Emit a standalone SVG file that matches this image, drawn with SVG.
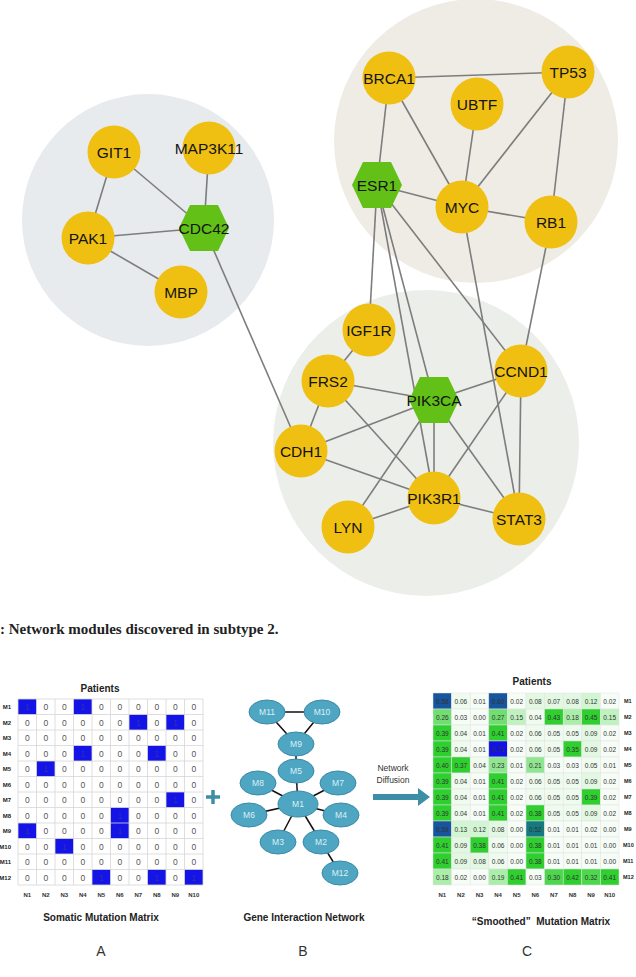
<svg xmlns="http://www.w3.org/2000/svg" width="636" height="977" viewBox="0 0 636 977">
<style>
.bgc{stroke:none}
.edge{stroke:#7d7d7d;stroke-width:1.6;fill:none}
.gene{fill:#efbf12}
.hub{fill:#62c016}
.gl{font-family:"Liberation Sans",Arial,sans-serif;font-size:15.5px;fill:#141414;text-anchor:middle}
.cap{font-family:"Liberation Serif","Times New Roman",serif;font-size:15px;font-weight:bold;fill:#222}
.ttl{font-family:"Liberation Sans",Arial,sans-serif;font-size:10px;font-weight:bold;fill:#222;text-anchor:middle}
.abc{font-family:"Liberation Sans",Arial,sans-serif;font-size:14px;fill:#333;text-anchor:middle}
.z{font-family:"Liberation Sans",Arial,sans-serif;font-size:8.5px;fill:#555;text-anchor:middle}
.one{fill:#3030b0}
.rl{font-family:"Liberation Sans",Arial,sans-serif;font-size:6px;font-weight:bold;fill:#222}
.rr{font-family:"Liberation Sans",Arial,sans-serif;font-size:5.5px;font-weight:bold;fill:#222}
.cl{font-family:"Liberation Sans",Arial,sans-serif;font-size:6px;font-weight:bold;fill:#333;text-anchor:middle}
.grid{stroke:#d6d6d6;stroke-width:0.8;fill:none}
.blue{fill:#1414e6}
.bn{fill:#4ea6c2;stroke:#3b8aa5;stroke-width:1}
.bl{font-family:"Liberation Sans",Arial,sans-serif;font-size:8.5px;fill:#dcf0f6;text-anchor:middle}
.be{stroke:#111;stroke-width:1.5}
.teal{fill:#3d8fa6}
.nd{font-family:"Liberation Sans",Arial,sans-serif;font-size:8.5px;fill:#333;text-anchor:middle}
.v{font-family:"Liberation Sans",Arial,sans-serif;font-size:6.5px;fill:#333;text-anchor:middle}
.mc rect{stroke:#e2e2e2;stroke-width:0.5;width:18.6px;height:16px}
.a{fill:#f6fdf6}.b{fill:#eefbee}.c{fill:#e2f8e2}.d{fill:#d2f5d2}.e{fill:#c0f2c0}.f{fill:#aaeeaa}.g{fill:#90e690}.h{fill:#70de70}.i{fill:#4cd74c}.j{fill:#2ecf2e}.k{fill:#157a80}.l{fill:#17559e}.m{fill:#1212e6}
</style>
<defs>
<polygon id="hex" points="-25,0 -14,-23 14,-23 25,0 14,23 -14,23"/>
</defs>

<!-- module backgrounds -->
<g id="modules">
<circle cx="148" cy="220" r="126" fill="#e7ebee"/>
<circle cx="476" cy="141" r="142" fill="#eeece5"/>
<circle cx="426" cy="443" r="153" fill="#eceee9"/>
</g>

<!-- connectors of the network -->
<g id="connectors">
<line class="edge" x1="114" y1="152" x2="88" y2="238"/>
<line class="edge" x1="114" y1="152" x2="204" y2="228"/>
<line class="edge" x1="209" y1="148" x2="204" y2="228"/>
<line class="edge" x1="88" y1="238" x2="204" y2="228"/>
<line class="edge" x1="88" y1="238" x2="181" y2="292"/>
<line class="edge" x1="204" y1="228" x2="301" y2="451"/>
<line class="edge" x1="389" y1="78" x2="568" y2="72"/>
<line class="edge" x1="389" y1="78" x2="377" y2="185"/>
<line class="edge" x1="389" y1="78" x2="462" y2="207"/>
<line class="edge" x1="477" y1="104" x2="462" y2="207"/>
<line class="edge" x1="568" y1="72" x2="462" y2="207"/>
<line class="edge" x1="568" y1="72" x2="551" y2="222"/>
<line class="edge" x1="377" y1="185" x2="462" y2="207"/>
<line class="edge" x1="462" y1="207" x2="551" y2="222"/>
<line class="edge" x1="377" y1="185" x2="369" y2="330"/>
<line class="edge" x1="377" y1="185" x2="434" y2="400"/>
<line class="edge" x1="377" y1="185" x2="434" y2="498"/>
<line class="edge" x1="377" y1="185" x2="521" y2="371"/>
<line class="edge" x1="462" y1="207" x2="519" y2="519"/>
<line class="edge" x1="551" y1="222" x2="521" y2="371"/>
<line class="edge" x1="369" y1="330" x2="328" y2="381"/>
<line class="edge" x1="328" y1="381" x2="434" y2="400"/>
<line class="edge" x1="328" y1="381" x2="301" y2="451"/>
<line class="edge" x1="328" y1="381" x2="434" y2="498"/>
<line class="edge" x1="301" y1="451" x2="434" y2="400"/>
<line class="edge" x1="301" y1="451" x2="434" y2="498"/>
<line class="edge" x1="434" y1="400" x2="521" y2="371"/>
<line class="edge" x1="434" y1="400" x2="434" y2="498"/>
<line class="edge" x1="434" y1="400" x2="348" y2="527"/>
<line class="edge" x1="434" y1="400" x2="519" y2="519"/>
<line class="edge" x1="521" y1="371" x2="434" y2="498"/>
<line class="edge" x1="521" y1="371" x2="519" y2="519"/>
<line class="edge" x1="434" y1="498" x2="348" y2="527"/>
<line class="edge" x1="434" y1="498" x2="519" y2="519"/>
</g>

<g id="node-GIT1"><circle class="gene" cx="114" cy="152" r="26.5"/><text class="gl" x="114" y="157.5">GIT1</text></g>
<g id="node-MAP3K11"><circle class="gene" cx="209" cy="148" r="26.5"/><text class="gl" x="209" y="153.5">MAP3K11</text></g>
<g id="node-PAK1"><circle class="gene" cx="88" cy="238" r="26.5"/><text class="gl" x="88" y="243.5">PAK1</text></g>
<g id="node-CDC42"><use href="#hex" class="hub" transform="translate(204,228)"/><text class="gl" x="204" y="233.5">CDC42</text></g>
<g id="node-MBP"><circle class="gene" cx="181" cy="292" r="26.5"/><text class="gl" x="181" y="297.5">MBP</text></g>
<g id="node-BRCA1"><circle class="gene" cx="389" cy="78" r="26.5"/><text class="gl" x="389" y="83.5">BRCA1</text></g>
<g id="node-TP53"><circle class="gene" cx="568" cy="72" r="26.5"/><text class="gl" x="568" y="77.5">TP53</text></g>
<g id="node-UBTF"><circle class="gene" cx="477" cy="104" r="26.5"/><text class="gl" x="477" y="109.5">UBTF</text></g>
<g id="node-ESR1"><use href="#hex" class="hub" transform="translate(377,185)"/><text class="gl" x="377" y="190.5">ESR1</text></g>
<g id="node-MYC"><circle class="gene" cx="462" cy="207" r="26.5"/><text class="gl" x="462" y="212.5">MYC</text></g>
<g id="node-RB1"><circle class="gene" cx="551" cy="222" r="26.5"/><text class="gl" x="551" y="227.5">RB1</text></g>
<g id="node-IGF1R"><circle class="gene" cx="369" cy="330" r="26.5"/><text class="gl" x="369" y="335.5">IGF1R</text></g>
<g id="node-FRS2"><circle class="gene" cx="328" cy="381" r="26.5"/><text class="gl" x="328" y="386.5">FRS2</text></g>
<g id="node-PIK3CA"><use href="#hex" class="hub" transform="translate(434,400)"/><text class="gl" x="434" y="405.5">PIK3CA</text></g>
<g id="node-CCND1"><circle class="gene" cx="521" cy="371" r="26.5"/><text class="gl" x="521" y="376.5">CCND1</text></g>
<g id="node-CDH1"><circle class="gene" cx="301" cy="451" r="26.5"/><text class="gl" x="301" y="456.5">CDH1</text></g>
<g id="node-PIK3R1"><circle class="gene" cx="434" cy="498" r="26.5"/><text class="gl" x="434" y="503.5">PIK3R1</text></g>
<g id="node-LYN"><circle class="gene" cx="348" cy="527" r="26.5"/><text class="gl" x="348" y="532.5">LYN</text></g>
<g id="node-STAT3"><circle class="gene" cx="519" cy="519" r="26.5"/><text class="gl" x="519" y="524.5">STAT3</text></g>

<text class="cap" x="0" y="634">: Network modules discovered in subtype 2.</text>

<!-- Panel A -->
<g id="panel-A">
<text class="ttl" x="100" y="692">Patients</text>
<rect x="18" y="699" width="185" height="186" fill="#fff"/>
<g class="blue">
<rect x="18" y="699" width="18.5" height="15.5"/>
<rect x="73.5" y="699" width="18.5" height="15.5"/>
<rect x="129" y="714.5" width="18.5" height="15.5"/>
<rect x="166" y="714.5" width="18.5" height="15.5"/>
<rect x="73.5" y="745.5" width="18.5" height="15.5"/>
<rect x="147.5" y="745.5" width="18.5" height="15.5"/>
<rect x="36.5" y="761" width="18.5" height="15.5"/>
<rect x="166" y="792" width="18.5" height="15.5"/>
<rect x="110.5" y="807.5" width="18.5" height="15.5"/>
<rect x="18" y="823" width="18.5" height="15.5"/>
<rect x="110.5" y="823" width="18.5" height="15.5"/>
<rect x="55" y="838.5" width="18.5" height="15.5"/>
<rect x="92" y="869.5" width="18.5" height="15.5"/>
<rect x="147.5" y="869.5" width="18.5" height="15.5"/>
<rect x="184.5" y="869.5" width="18.5" height="15.5"/>
</g>
<path class="grid" d="M18 699V885M36.5 699V885M55 699V885M73.5 699V885M92 699V885M110.5 699V885M129 699V885M147.5 699V885M166 699V885M184.5 699V885M203 699V885M18 699H203M18 714.5H203M18 730H203M18 745.5H203M18 761H203M18 776.5H203M18 792H203M18 807.5H203M18 823H203M18 838.5H203M18 854H203M18 869.5H203M18 885H203"/>
<g class="z">
<text y="710"><tspan x="27.25" class="one">1</tspan><tspan x="45.75">0</tspan><tspan x="64.25">0</tspan><tspan x="82.75" class="one">1</tspan><tspan x="101.25">0</tspan><tspan x="119.75">0</tspan><tspan x="138.25">0</tspan><tspan x="156.75">0</tspan><tspan x="175.25">0</tspan><tspan x="193.75">0</tspan></text>
<text y="725.5"><tspan x="27.25">0</tspan><tspan x="45.75">0</tspan><tspan x="64.25">0</tspan><tspan x="82.75">0</tspan><tspan x="101.25">0</tspan><tspan x="119.75">0</tspan><tspan x="138.25" class="one">1</tspan><tspan x="156.75">0</tspan><tspan x="175.25" class="one">1</tspan><tspan x="193.75">0</tspan></text>
<text y="741"><tspan x="27.25">0</tspan><tspan x="45.75">0</tspan><tspan x="64.25">0</tspan><tspan x="82.75">0</tspan><tspan x="101.25">0</tspan><tspan x="119.75">0</tspan><tspan x="138.25">0</tspan><tspan x="156.75">0</tspan><tspan x="175.25">0</tspan><tspan x="193.75">0</tspan></text>
<text y="756.5"><tspan x="27.25">0</tspan><tspan x="45.75">0</tspan><tspan x="64.25">0</tspan><tspan x="82.75" class="one">1</tspan><tspan x="101.25">0</tspan><tspan x="119.75">0</tspan><tspan x="138.25">0</tspan><tspan x="156.75" class="one">1</tspan><tspan x="175.25">0</tspan><tspan x="193.75">0</tspan></text>
<text y="772"><tspan x="27.25">0</tspan><tspan x="45.75" class="one">1</tspan><tspan x="64.25">0</tspan><tspan x="82.75">0</tspan><tspan x="101.25">0</tspan><tspan x="119.75">0</tspan><tspan x="138.25">0</tspan><tspan x="156.75">0</tspan><tspan x="175.25">0</tspan><tspan x="193.75">0</tspan></text>
<text y="787.5"><tspan x="27.25">0</tspan><tspan x="45.75">0</tspan><tspan x="64.25">0</tspan><tspan x="82.75">0</tspan><tspan x="101.25">0</tspan><tspan x="119.75">0</tspan><tspan x="138.25">0</tspan><tspan x="156.75">0</tspan><tspan x="175.25">0</tspan><tspan x="193.75">0</tspan></text>
<text y="803"><tspan x="27.25">0</tspan><tspan x="45.75">0</tspan><tspan x="64.25">0</tspan><tspan x="82.75">0</tspan><tspan x="101.25">0</tspan><tspan x="119.75">0</tspan><tspan x="138.25">0</tspan><tspan x="156.75">0</tspan><tspan x="175.25" class="one">1</tspan><tspan x="193.75">0</tspan></text>
<text y="818.5"><tspan x="27.25">0</tspan><tspan x="45.75">0</tspan><tspan x="64.25">0</tspan><tspan x="82.75">0</tspan><tspan x="101.25">0</tspan><tspan x="119.75" class="one">1</tspan><tspan x="138.25">0</tspan><tspan x="156.75">0</tspan><tspan x="175.25">0</tspan><tspan x="193.75">0</tspan></text>
<text y="834"><tspan x="27.25" class="one">1</tspan><tspan x="45.75">0</tspan><tspan x="64.25">0</tspan><tspan x="82.75">0</tspan><tspan x="101.25">0</tspan><tspan x="119.75" class="one">1</tspan><tspan x="138.25">0</tspan><tspan x="156.75">0</tspan><tspan x="175.25">0</tspan><tspan x="193.75">0</tspan></text>
<text y="849.5"><tspan x="27.25">0</tspan><tspan x="45.75">0</tspan><tspan x="64.25" class="one">1</tspan><tspan x="82.75">0</tspan><tspan x="101.25">0</tspan><tspan x="119.75">0</tspan><tspan x="138.25">0</tspan><tspan x="156.75">0</tspan><tspan x="175.25">0</tspan><tspan x="193.75">0</tspan></text>
<text y="865"><tspan x="27.25">0</tspan><tspan x="45.75">0</tspan><tspan x="64.25">0</tspan><tspan x="82.75">0</tspan><tspan x="101.25">0</tspan><tspan x="119.75">0</tspan><tspan x="138.25">0</tspan><tspan x="156.75">0</tspan><tspan x="175.25">0</tspan><tspan x="193.75">0</tspan></text>
<text y="880.5"><tspan x="27.25">0</tspan><tspan x="45.75">0</tspan><tspan x="64.25">0</tspan><tspan x="82.75">0</tspan><tspan x="101.25" class="one">1</tspan><tspan x="119.75">0</tspan><tspan x="138.25">0</tspan><tspan x="156.75" class="one">1</tspan><tspan x="175.25">0</tspan><tspan x="193.75" class="one">1</tspan></text>
</g>
<g class="rl" text-anchor="end">
<text x="11" y="709">M1</text><text x="11" y="724.5">M2</text><text x="11" y="740">M3</text><text x="11" y="755.5">M4</text><text x="11" y="771">M5</text><text x="11" y="786.5">M6</text><text x="11" y="802">M7</text><text x="11" y="817.5">M8</text><text x="11" y="833">M9</text><text x="11" y="848.5">M10</text><text x="11" y="864">M11</text><text x="11" y="879.5">M12</text>
</g>
<text class="cl" y="897"><tspan x="27.25">N1</tspan><tspan x="45.75">N2</tspan><tspan x="64.25">N3</tspan><tspan x="82.75">N4</tspan><tspan x="101.25">N5</tspan><tspan x="119.75">N6</tspan><tspan x="138.25">N7</tspan><tspan x="156.75">N8</tspan><tspan x="175.25">N9</tspan><tspan x="193.75">N10</tspan></text>
<text class="ttl" x="101" y="921">Somatic Mutation Matrix</text>
<text class="abc" x="101" y="956">A</text>
</g>

<!-- plus -->
<path d="M206 797H220M213 790V804" stroke="#3d8fa6" stroke-width="3.5"/>

<!-- Panel B -->
<g id="panel-B">
<g id="b-edges" class="be">
<line x1="267" y1="712" x2="322" y2="712"/>
<line x1="267" y1="712" x2="296" y2="744"/>
<line x1="322" y1="712" x2="296" y2="744"/>
<line x1="296" y1="744" x2="296" y2="771"/>
<line x1="296" y1="771" x2="298" y2="804"/>
<line x1="258" y1="783" x2="298" y2="804"/>
<line x1="338" y1="783" x2="298" y2="804"/>
<line x1="249" y1="815" x2="298" y2="804"/>
<line x1="341" y1="815" x2="298" y2="804"/>
<line x1="278" y1="842" x2="298" y2="804"/>
<line x1="321" y1="842" x2="298" y2="804"/>
<line x1="321" y1="842" x2="340" y2="873"/>
</g>
<g id="b-M11"><ellipse class="bn" cx="267" cy="712" rx="18" ry="12"/><text class="bl" x="267" y="715">M11</text></g>
<g id="b-M10"><ellipse class="bn" cx="322" cy="712" rx="18" ry="12"/><text class="bl" x="322" y="715">M10</text></g>
<g id="b-M9"><ellipse class="bn" cx="296" cy="744" rx="18" ry="12"/><text class="bl" x="296" y="747">M9</text></g>
<g id="b-M5"><ellipse class="bn" cx="296" cy="771" rx="18" ry="12"/><text class="bl" x="296" y="774">M5</text></g>
<g id="b-M8"><ellipse class="bn" cx="258" cy="783" rx="18" ry="12"/><text class="bl" x="258" y="786">M8</text></g>
<g id="b-M7"><ellipse class="bn" cx="338" cy="783" rx="18" ry="12"/><text class="bl" x="338" y="786">M7</text></g>
<g id="b-M1"><ellipse class="bn" cx="298" cy="804" rx="20" ry="13"/><text class="bl" x="298" y="807">M1</text></g>
<g id="b-M6"><ellipse class="bn" cx="249" cy="815" rx="18" ry="12"/><text class="bl" x="249" y="818">M6</text></g>
<g id="b-M4"><ellipse class="bn" cx="341" cy="815" rx="18" ry="12"/><text class="bl" x="341" y="818">M4</text></g>
<g id="b-M3"><ellipse class="bn" cx="278" cy="842" rx="18" ry="12"/><text class="bl" x="278" y="845">M3</text></g>
<g id="b-M2"><ellipse class="bn" cx="321" cy="842" rx="18" ry="12"/><text class="bl" x="321" y="845">M2</text></g>
<g id="b-M12"><ellipse class="bn" cx="340" cy="873" rx="18" ry="12"/><text class="bl" x="340" y="876">M12</text></g>
<text class="ttl" x="304" y="921">Gene Interaction Network</text>
<text class="abc" x="303" y="956">B</text>
</g>

<!-- diffusion arrow -->
<g id="arrow">
<text class="nd" x="393" y="771">Network</text>
<text class="nd" x="393" y="783">Diffusion</text>
<rect class="teal" x="373" y="794" width="46" height="6"/>
<polygon class="teal" points="418,788 430,797 418,806"/>
</g>

<!-- Panel C -->
<g id="panel-C">
<text class="ttl" x="532" y="685">Patients</text>
<g class="mc">
<g transform="translate(0,693)"><rect class="l" x="433"/><rect class="b" x="451.6"/><rect class="a" x="470.2"/><rect class="l" x="488.8"/><rect class="a" x="507.4"/><rect class="c" x="526"/><rect class="c" x="544.6"/><rect class="c" x="563.2"/><rect class="d" x="581.8"/><rect class="a" x="600.4"/></g>
<g transform="translate(0,709)"><rect class="h" x="433"/><rect class="a" x="451.6"/><rect class="a" x="470.2"/><rect class="h" x="488.8"/><rect class="e" x="507.4"/><rect class="b" x="526"/><rect class="j" x="544.6"/><rect class="f" x="563.2"/><rect class="j" x="581.8"/><rect class="e" x="600.4"/></g>
<g transform="translate(0,725)"><rect class="j" x="433"/><rect class="b" x="451.6"/><rect class="a" x="470.2"/><rect class="j" x="488.8"/><rect class="a" x="507.4"/><rect class="b" x="526"/><rect class="b" x="544.6"/><rect class="b" x="563.2"/><rect class="c" x="581.8"/><rect class="a" x="600.4"/></g>
<g transform="translate(0,741)"><rect class="j" x="433"/><rect class="b" x="451.6"/><rect class="a" x="470.2"/><rect class="m" x="488.8"/><rect class="a" x="507.4"/><rect class="b" x="526"/><rect class="b" x="544.6"/><rect class="j" x="563.2"/><rect class="c" x="581.8"/><rect class="a" x="600.4"/></g>
<g transform="translate(0,757)"><rect class="j" x="433"/><rect class="j" x="451.6"/><rect class="b" x="470.2"/><rect class="g" x="488.8"/><rect class="a" x="507.4"/><rect class="g" x="526"/><rect class="a" x="544.6"/><rect class="a" x="563.2"/><rect class="b" x="581.8"/><rect class="a" x="600.4"/></g>
<g transform="translate(0,773)"><rect class="j" x="433"/><rect class="b" x="451.6"/><rect class="a" x="470.2"/><rect class="j" x="488.8"/><rect class="a" x="507.4"/><rect class="b" x="526"/><rect class="b" x="544.6"/><rect class="b" x="563.2"/><rect class="c" x="581.8"/><rect class="a" x="600.4"/></g>
<g transform="translate(0,789)"><rect class="j" x="433"/><rect class="b" x="451.6"/><rect class="a" x="470.2"/><rect class="j" x="488.8"/><rect class="a" x="507.4"/><rect class="b" x="526"/><rect class="b" x="544.6"/><rect class="b" x="563.2"/><rect class="j" x="581.8"/><rect class="a" x="600.4"/></g>
<g transform="translate(0,805)"><rect class="j" x="433"/><rect class="b" x="451.6"/><rect class="a" x="470.2"/><rect class="j" x="488.8"/><rect class="a" x="507.4"/><rect class="j" x="526"/><rect class="b" x="544.6"/><rect class="b" x="563.2"/><rect class="c" x="581.8"/><rect class="a" x="600.4"/></g>
<g transform="translate(0,821)"><rect class="l" x="433"/><rect class="d" x="451.6"/><rect class="d" x="470.2"/><rect class="c" x="488.8"/><rect class="a" x="507.4"/><rect class="k" x="526"/><rect class="a" x="544.6"/><rect class="a" x="563.2"/><rect class="a" x="581.8"/><rect class="a" x="600.4"/></g>
<g transform="translate(0,837)"><rect class="j" x="433"/><rect class="c" x="451.6"/><rect class="j" x="470.2"/><rect class="b" x="488.8"/><rect class="a" x="507.4"/><rect class="j" x="526"/><rect class="a" x="544.6"/><rect class="a" x="563.2"/><rect class="a" x="581.8"/><rect class="a" x="600.4"/></g>
<g transform="translate(0,853)"><rect class="j" x="433"/><rect class="c" x="451.6"/><rect class="c" x="470.2"/><rect class="b" x="488.8"/><rect class="a" x="507.4"/><rect class="j" x="526"/><rect class="a" x="544.6"/><rect class="a" x="563.2"/><rect class="a" x="581.8"/><rect class="a" x="600.4"/></g>
<g transform="translate(0,869)"><rect class="f" x="433"/><rect class="a" x="451.6"/><rect class="a" x="470.2"/><rect class="f" x="488.8"/><rect class="j" x="507.4"/><rect class="a" x="526"/><rect class="i" x="544.6"/><rect class="j" x="563.2"/><rect class="i" x="581.8"/><rect class="j" x="600.4"/></g>
</g>
<g class="v">
<text y="703.5"><tspan x="442.3">0.58</tspan><tspan x="460.9">0.06</tspan><tspan x="479.5">0.01</tspan><tspan x="498.1">0.60</tspan><tspan x="516.7">0.02</tspan><tspan x="535.3">0.08</tspan><tspan x="553.9">0.07</tspan><tspan x="572.5">0.08</tspan><tspan x="591.1">0.12</tspan><tspan x="609.7">0.02</tspan></text>
<text y="719.5"><tspan x="442.3">0.26</tspan><tspan x="460.9">0.03</tspan><tspan x="479.5">0.00</tspan><tspan x="498.1">0.27</tspan><tspan x="516.7">0.15</tspan><tspan x="535.3">0.04</tspan><tspan x="553.9">0.43</tspan><tspan x="572.5">0.18</tspan><tspan x="591.1">0.45</tspan><tspan x="609.7">0.15</tspan></text>
<text y="735.5"><tspan x="442.3">0.39</tspan><tspan x="460.9">0.04</tspan><tspan x="479.5">0.01</tspan><tspan x="498.1">0.41</tspan><tspan x="516.7">0.02</tspan><tspan x="535.3">0.06</tspan><tspan x="553.9">0.05</tspan><tspan x="572.5">0.05</tspan><tspan x="591.1">0.09</tspan><tspan x="609.7">0.02</tspan></text>
<text y="751.5"><tspan x="442.3">0.39</tspan><tspan x="460.9">0.04</tspan><tspan x="479.5">0.01</tspan><tspan x="498.1">0.71</tspan><tspan x="516.7">0.02</tspan><tspan x="535.3">0.06</tspan><tspan x="553.9">0.05</tspan><tspan x="572.5">0.35</tspan><tspan x="591.1">0.09</tspan><tspan x="609.7">0.02</tspan></text>
<text y="767.5"><tspan x="442.3">0.40</tspan><tspan x="460.9">0.37</tspan><tspan x="479.5">0.04</tspan><tspan x="498.1">0.23</tspan><tspan x="516.7">0.01</tspan><tspan x="535.3">0.21</tspan><tspan x="553.9">0.03</tspan><tspan x="572.5">0.03</tspan><tspan x="591.1">0.05</tspan><tspan x="609.7">0.01</tspan></text>
<text y="783.5"><tspan x="442.3">0.39</tspan><tspan x="460.9">0.04</tspan><tspan x="479.5">0.01</tspan><tspan x="498.1">0.41</tspan><tspan x="516.7">0.02</tspan><tspan x="535.3">0.06</tspan><tspan x="553.9">0.05</tspan><tspan x="572.5">0.05</tspan><tspan x="591.1">0.09</tspan><tspan x="609.7">0.02</tspan></text>
<text y="799.5"><tspan x="442.3">0.39</tspan><tspan x="460.9">0.04</tspan><tspan x="479.5">0.01</tspan><tspan x="498.1">0.41</tspan><tspan x="516.7">0.02</tspan><tspan x="535.3">0.06</tspan><tspan x="553.9">0.05</tspan><tspan x="572.5">0.05</tspan><tspan x="591.1">0.39</tspan><tspan x="609.7">0.02</tspan></text>
<text y="815.5"><tspan x="442.3">0.39</tspan><tspan x="460.9">0.04</tspan><tspan x="479.5">0.01</tspan><tspan x="498.1">0.41</tspan><tspan x="516.7">0.02</tspan><tspan x="535.3">0.38</tspan><tspan x="553.9">0.05</tspan><tspan x="572.5">0.05</tspan><tspan x="591.1">0.09</tspan><tspan x="609.7">0.02</tspan></text>
<text y="831.5"><tspan x="442.3">0.59</tspan><tspan x="460.9">0.13</tspan><tspan x="479.5">0.12</tspan><tspan x="498.1">0.08</tspan><tspan x="516.7">0.00</tspan><tspan x="535.3">0.52</tspan><tspan x="553.9">0.01</tspan><tspan x="572.5">0.01</tspan><tspan x="591.1">0.02</tspan><tspan x="609.7">0.00</tspan></text>
<text y="847.5"><tspan x="442.3">0.41</tspan><tspan x="460.9">0.09</tspan><tspan x="479.5">0.38</tspan><tspan x="498.1">0.06</tspan><tspan x="516.7">0.00</tspan><tspan x="535.3">0.38</tspan><tspan x="553.9">0.01</tspan><tspan x="572.5">0.01</tspan><tspan x="591.1">0.01</tspan><tspan x="609.7">0.00</tspan></text>
<text y="863.5"><tspan x="442.3">0.41</tspan><tspan x="460.9">0.09</tspan><tspan x="479.5">0.08</tspan><tspan x="498.1">0.06</tspan><tspan x="516.7">0.00</tspan><tspan x="535.3">0.38</tspan><tspan x="553.9">0.01</tspan><tspan x="572.5">0.01</tspan><tspan x="591.1">0.01</tspan><tspan x="609.7">0.00</tspan></text>
<text y="879.5"><tspan x="442.3">0.18</tspan><tspan x="460.9">0.02</tspan><tspan x="479.5">0.00</tspan><tspan x="498.1">0.19</tspan><tspan x="516.7">0.41</tspan><tspan x="535.3">0.03</tspan><tspan x="553.9">0.30</tspan><tspan x="572.5">0.42</tspan><tspan x="591.1">0.32</tspan><tspan x="609.7">0.41</tspan></text>
</g>
<g class="rr">
<text x="624" y="703">M1</text><text x="624" y="719">M2</text><text x="624" y="735">M3</text><text x="624" y="751">M4</text><text x="624" y="767">M5</text><text x="624" y="783">M6</text><text x="624" y="799">M7</text><text x="624" y="815">M8</text><text x="624" y="831">M9</text><text x="623" y="847">M10</text><text x="623" y="863">M11</text><text x="623" y="879">M12</text>
</g>
<text class="cl" y="897"><tspan x="442.3">N1</tspan><tspan x="460.9">N2</tspan><tspan x="479.5">N3</tspan><tspan x="498.1">N4</tspan><tspan x="516.7">N5</tspan><tspan x="535.3">N6</tspan><tspan x="553.9">N7</tspan><tspan x="572.5">N8</tspan><tspan x="591.1">N9</tspan><tspan x="609.7">N10</tspan></text>
<text class="ttl" x="541" y="925" xml:space="preserve">“Smoothed”  Mutation Matrix</text>
<text class="abc" x="527" y="956">C</text>
</g>
</svg>
